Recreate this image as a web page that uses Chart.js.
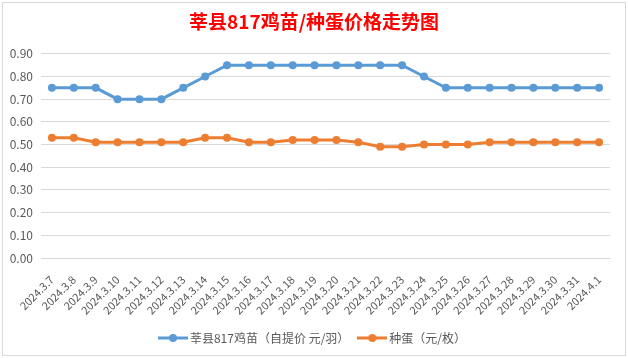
<!DOCTYPE html>
<html>
<head>
<meta charset="utf-8">
<script src="https://cdn.jsdelivr.net/npm/chart.js@4.4.1/dist/chart.umd.min.js"></script>
<style>
  html, body { margin: 0; padding: 0; background: #fff; }
  #wrap { position: relative; width: 628px; height: 358px; overflow: hidden; }
  #c { position: absolute; left: 0; top: 0; }
  #frame { position: absolute; left: 2px; top: 2px; width: 622px; height: 352px; border: 1px solid #d9d9d9; pointer-events: none; }
</style>
</head>
<body>
<div id="wrap">
  <canvas id="c" width="628" height="358"></canvas>
  <div id="frame"></div>
</div>
<script>
const titleText = '莘县817鸡苗/种蛋价格走势图';
const categories = ['2024.3.7','2024.3.8','2024.3.9','2024.3.10','2024.3.11','2024.3.12','2024.3.13','2024.3.14','2024.3.15','2024.3.16','2024.3.17','2024.3.18','2024.3.19','2024.3.20','2024.3.21','2024.3.22','2024.3.23','2024.3.24','2024.3.25','2024.3.26','2024.3.27','2024.3.28','2024.3.29','2024.3.30','2024.3.31','2024.4.1'];
const chickName = '莘县817鸡苗（自提价 元/羽）';
const chickPrices = [0.75,0.75,0.75,0.70,0.70,0.70,0.75,0.80,0.85,0.85,0.85,0.85,0.85,0.85,0.85,0.85,0.85,0.80,0.75,0.75,0.75,0.75,0.75,0.75,0.75,0.75];
const eggName = '种蛋（元/枚）';
const eggPrices = [0.53,0.53,0.51,0.51,0.51,0.51,0.51,0.53,0.53,0.51,0.51,0.52,0.52,0.52,0.51,0.49,0.49,0.50,0.50,0.50,0.51,0.51,0.51,0.51,0.51,0.51];
const yTicks = [0,0.1,0.2,0.3,0.4,0.5,0.6,0.7,0.8,0.9];

const BLUE = '#5B9BD5';
const ORANGE = '#ED7D31';
const TXT = '#595959';
const GRID = '#d9d9d9';
const FONT = "'Noto Sans CJK SC', 'Noto Sans', sans-serif";

function legendMarker(color) {
  const cv = document.createElement('canvas');
  cv.width = 30; cv.height = 10;
  const g = cv.getContext('2d');
  g.strokeStyle = color; g.lineWidth = 3;
  g.beginPath(); g.moveTo(0, 5); g.lineTo(30, 5); g.stroke();
  g.fillStyle = color;
  g.beginPath(); g.arc(15, 5, 4, 0, Math.PI * 2); g.fill();
  return cv;
}
const markers = [legendMarker(BLUE), legendMarker(ORANGE)];

new Chart(document.getElementById('c'), {
  type: 'line',
  data: {
    labels: categories,
    datasets: [
      { label: chickName, data: chickPrices, borderColor: BLUE, backgroundColor: BLUE, borderWidth: 3, pointRadius: 4, pointBackgroundColor: BLUE, pointBorderWidth: 0, tension: 0 },
      { label: eggName, data: eggPrices, borderColor: ORANGE, backgroundColor: ORANGE, borderWidth: 3, pointRadius: 4, pointBackgroundColor: ORANGE, pointBorderWidth: 0, tension: 0 }
    ]
  },
  options: {
    responsive: false,
    animation: false,
    layout: { padding: { left: 0, right: 0, top: 0, bottom: 4 } },
    plugins: {
      title: {
        display: true, text: titleText, color: '#FF0000',
        font: { family: FONT, size: 19, weight: 'bold' },
        padding: { top: 10, bottom: 21 }
      },
      legend: {
        position: 'bottom',
        labels: {
          color: TXT, font: { family: FONT, size: 12 },
          usePointStyle: true, pointStyleWidth: 22, padding: 12,
          generateLabels: (chart) => chart.data.datasets.map((ds, i) => ({
            text: ds.label, pointStyle: markers[i], fillStyle: ds.borderColor,
            strokeStyle: ds.borderColor, lineWidth: 0, datasetIndex: i, fontColor: TXT
          }))
        }
      },
      tooltip: { enabled: false }
    },
    scales: {
      x: {
        type: 'category', offset: true,
        grid: { display: false, drawTicks: false },
        border: { display: true, color: GRID, width: 1 },
        ticks: { color: TXT, font: { family: FONT, size: 11 }, autoSkip: false, minRotation: 45, maxRotation: 45, padding: 15 },
        afterFit: (s) => { s.height = 62; }
      },
      y: {
        min: 0, max: 0.9,
        grid: { color: GRID, drawTicks: false, lineWidth: 1 },
        border: { display: false },
        afterBuildTicks: (s) => { s.ticks = yTicks.map(v => ({ value: v })); },
        ticks: { color: TXT, font: { family: FONT, size: 12 }, padding: 8, callback: (v) => Number(v).toFixed(2) },
        afterFit: (s) => { s.width = 41; }
      },
      yr: {
        position: 'right', display: true,
        grid: { display: false, drawTicks: false },
        border: { display: false },
        ticks: { display: false },
        afterFit: (s) => { s.width = 18; }
      }
    }
  }
});
</script>
</body>
</html>
